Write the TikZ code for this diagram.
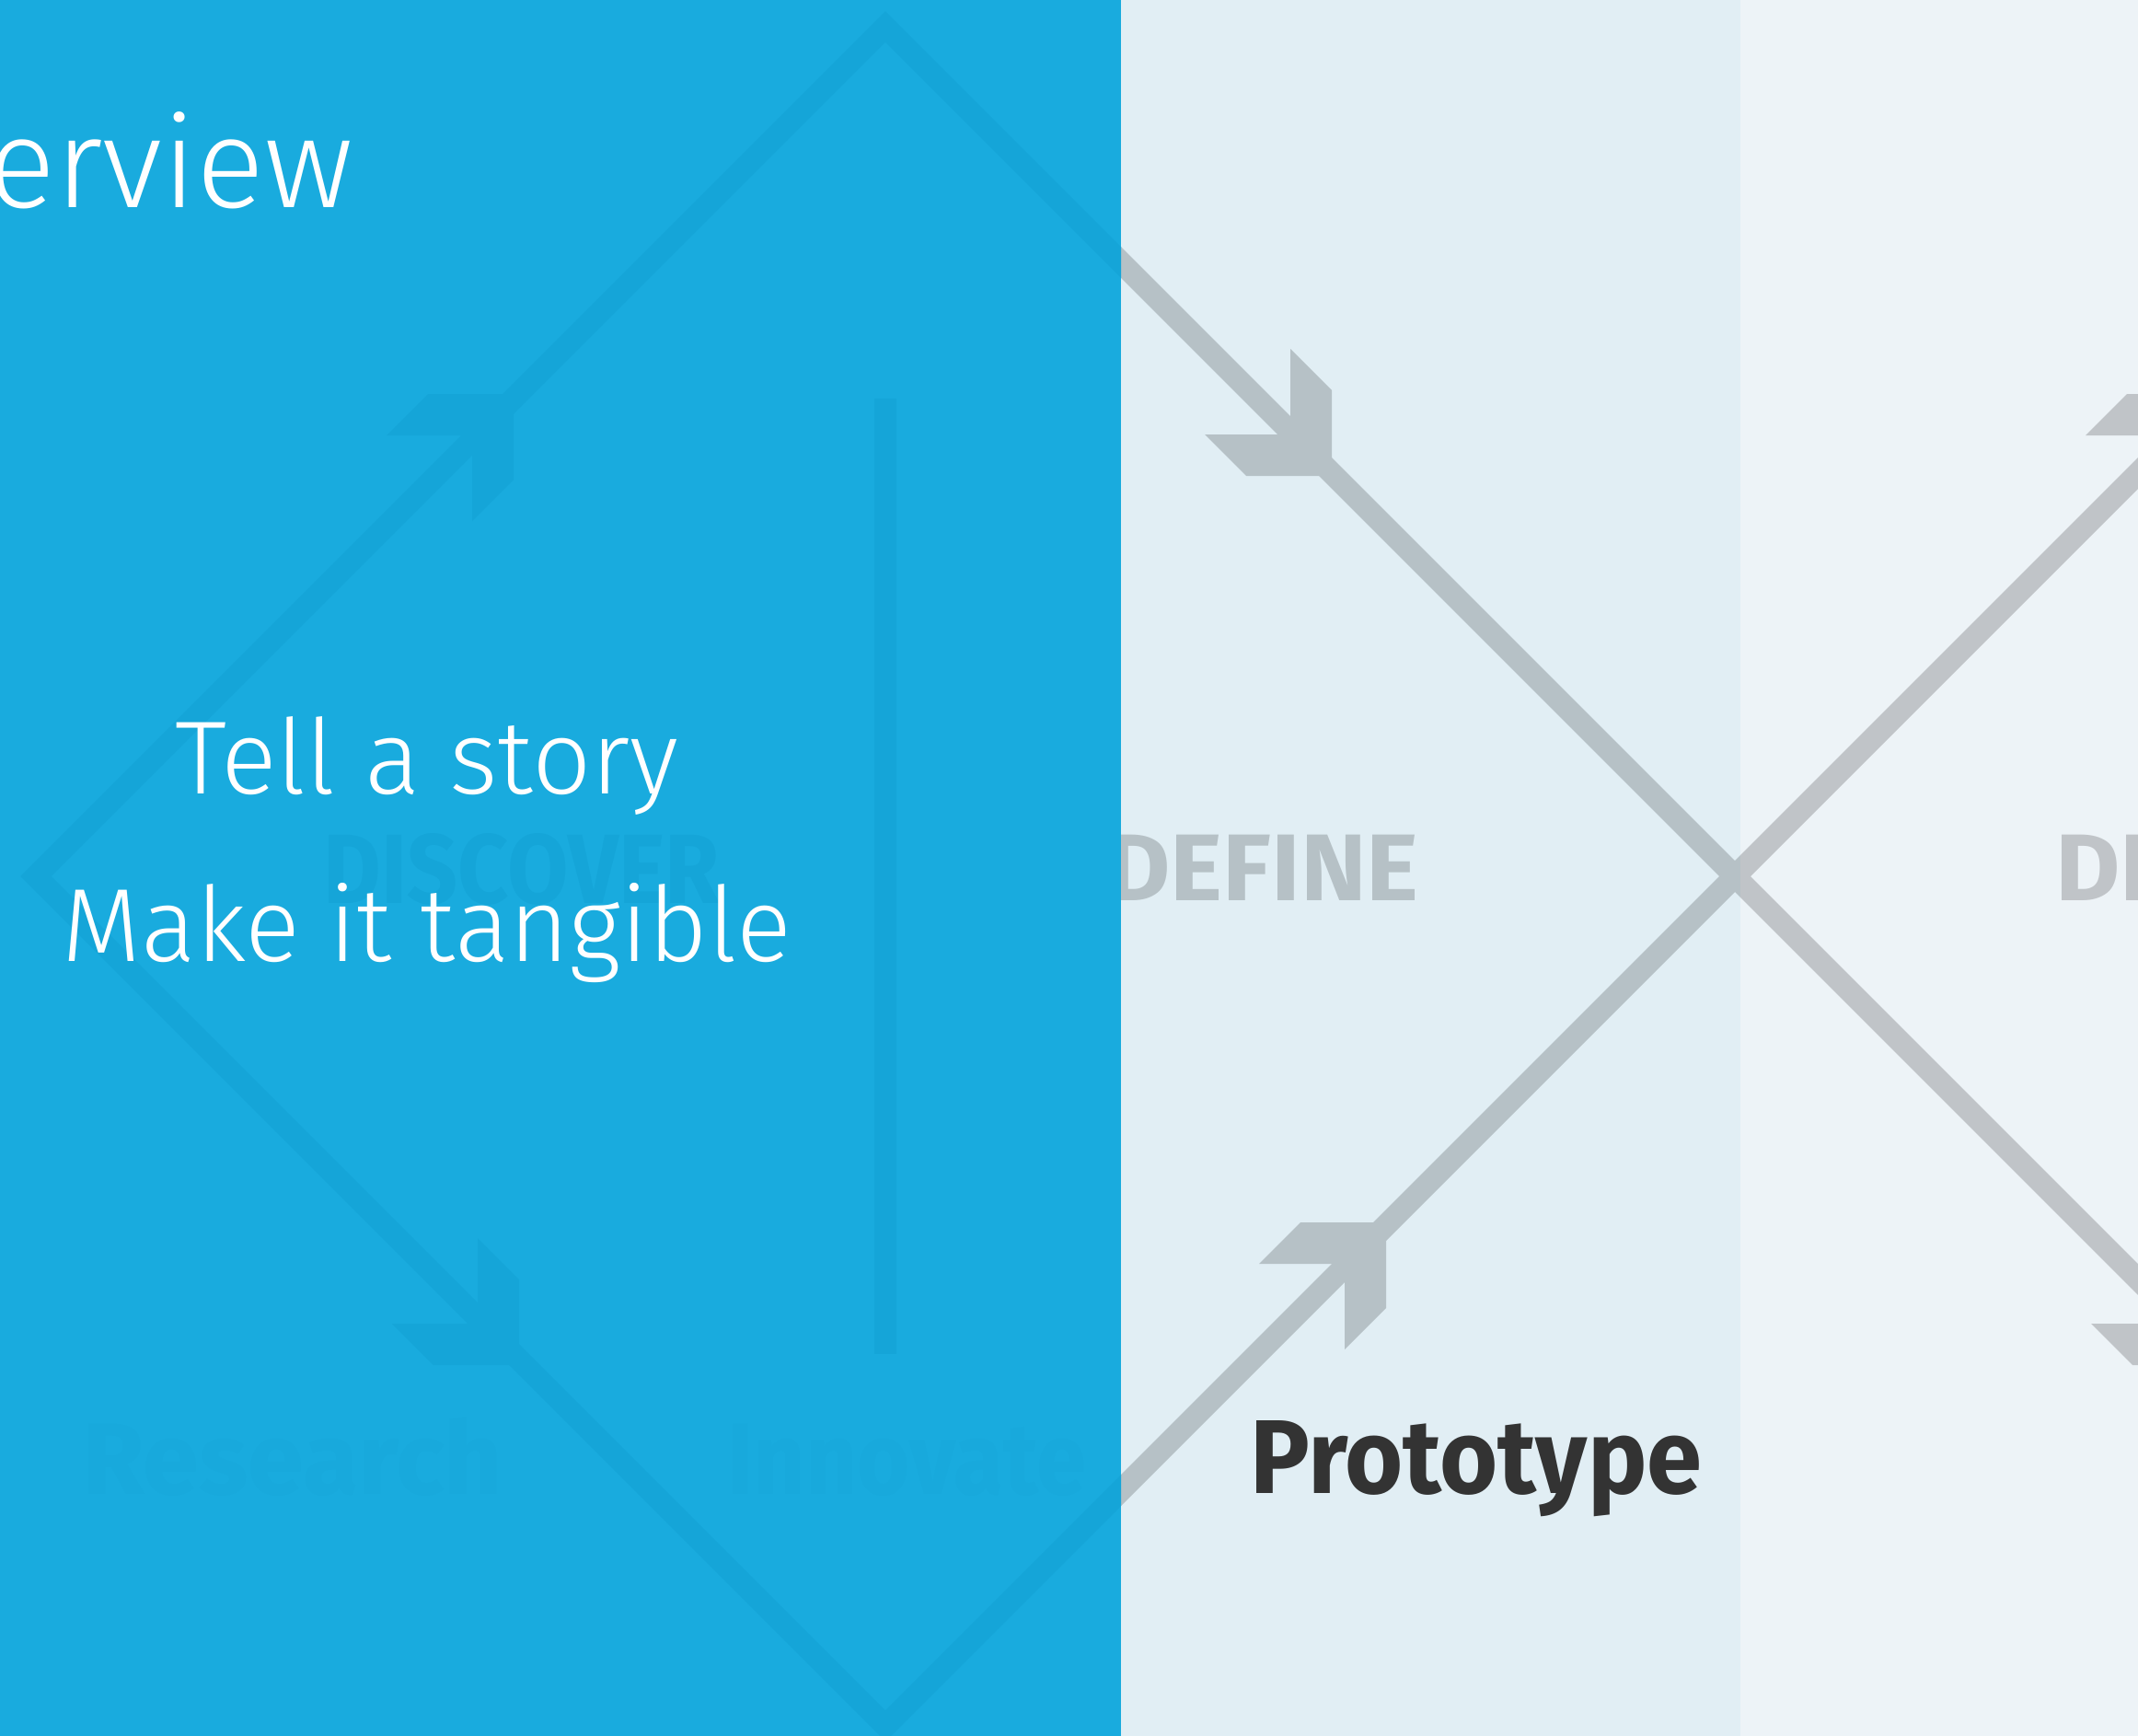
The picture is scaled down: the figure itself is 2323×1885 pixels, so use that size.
\documentclass[tikz,border=0pt]{standalone}
\usepackage{fontspec}
\setmainfont{Fira Sans}
\newfontfamily\lightfont{Fira Sans Light}
\definecolor{bluebg}{HTML}{19ABDE}
\definecolor{bluedark}{HTML}{15A5D8}
\definecolor{faintblue}{HTML}{18A9DC}
\definecolor{midbg}{HTML}{E1EEF4}
\definecolor{rightbg}{HTML}{EDF3F7}
\definecolor{grayA}{HTML}{B6C1C6}
\definecolor{grayB}{HTML}{C0C4C8}
\definecolor{darktext}{HTML}{333333}
\tikzset{
  arrowdr/.pic={\fill (0,0) -- (-93,0) -- (-138,-45) -- (-45,-45) -- (-45,-138) -- (0,-93) -- cycle;},
  diaedge/.style={line width=24pt, line join=miter, miter limit=10},
  stem/.style={line width=24pt, line cap=butt},
  lighttext/.style={inner sep=0pt, text=white, font=\lightfont\fontsize{113}{113}\selectfont},
}
\newcommand\ddgeom[1]{%
  \draw[diaedge, draw=#1] (L1) -- (T1) -- (X) -- (B1) -- cycle;
  \draw[diaedge, draw=#1] (X) -- (T2) -- (R2) -- (B2) -- cycle;
  \pic[fill=#1, yscale=-1] at (a1) {arrowdr};
  \pic[fill=#1] at (a2) {arrowdr};
  \pic[fill=#1] at (a3) {arrowdr};
  \pic[fill=#1, yscale=-1] at (a4) {arrowdr};
  \pic[fill=#1, yscale=-1] at (a5) {arrowdr};
  \pic[fill=#1] at (a6) {arrowdr};
}
\begin{document}
\begin{tikzpicture}[x=1pt, y=-1pt]
\useasboundingbox (0,0) rectangle (2323,1885);
% key points
\coordinate (L1) at (39,952);
\coordinate (T1) at (962,29);
\coordinate (X) at (1885,952);
\coordinate (B1) at (962,1875);
\coordinate (T2) at (2808,29);
\coordinate (R2) at (3731,952);
\coordinate (B2) at (2808,1875);
\coordinate (a1) at (558,428);
\coordinate (a2) at (1447,517);
\coordinate (a3) at (564,1483);
\coordinate (a4) at (1506,1328);
\coordinate (a5) at (2404,428);
\coordinate (a6) at (2410,1483);
\coordinate (s1) at (962,433);
\coordinate (s2) at (962,1471);
% backgrounds
\fill[rightbg] (-20,-20) rectangle (2343,1905);
\fill[midbg] (1218,-20) rectangle (1891,1905);
% middle panel content
\begin{scope}
  \clip (1218,-20) rectangle (1891,1905);
  \ddgeom{grayA}
  \node[anchor=base east, inner sep=0pt, text=grayA, font=\bfseries\fontsize{103}{103}\selectfont] (define) at (1542,978) {\scalebox{1.05}[1]{DEFINE}};
\end{scope}
% right panel content
\begin{scope}
  \clip (1891,-20) rectangle (2343,1905);
  \ddgeom{grayB}
  \node[anchor=base west, inner sep=0pt, text=grayB, font=\bfseries\fontsize{103}{103}\selectfont] (develop) at (2233,978) {\scalebox{1.05}[1]{DEVELOP}};
\end{scope}
% blue panel
\fill[bluebg] (-20,-20) rectangle (1218,1905);
\begin{scope}
  \clip (-20,-20) rectangle (1218,1905);
  \ddgeom{bluedark}
  \draw[stem, draw=bluedark] (s1) -- (s2);
  \node[anchor=base, inner sep=0pt, text=bluedark, font=\bfseries\fontsize{107}{107}\selectfont] (discover) at (567,981) {\scalebox{0.9}[1]{DISCOVER}};
  \node[anchor=base west, inner sep=0pt, text=faintblue, font=\bfseries\fontsize{110}{110}\selectfont] (research) at (89,1623) {Research};
  \node[anchor=base west, inner sep=0pt, text=faintblue, font=\bfseries\fontsize{110}{110}\selectfont] (innovate) at (790,1623) {\scalebox{0.89}[1]{Innovate}};
\end{scope}
% texts on top
\node[anchor=base east, inner sep=0pt, text=white, font=\lightfont\fontsize{138}{138}\selectfont] (title) at (384,225) {Overview};
\node[lighttext, anchor=base] (story) at (464,862) {Tell a story};
\node[lighttext, anchor=base] (tangible) at (464,1044) {\scalebox{0.985}[1]{Make it tangible}};
\node[anchor=base west, inner sep=0pt, text=darktext, font=\bfseries\fontsize{114}{114}\selectfont] (proto) at (1358,1622) {\scalebox{0.95}[1]{Prototype}};
\end{tikzpicture}
\end{document}
